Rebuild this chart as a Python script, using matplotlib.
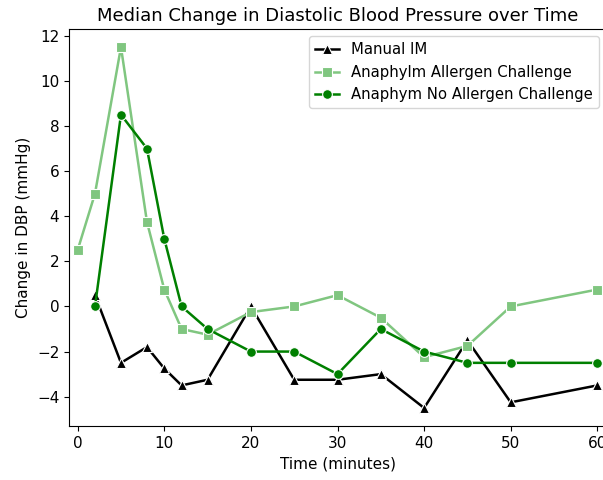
import matplotlib.pyplot as plt

# time points (minutes)
t_manual = [2, 5, 8, 10, 12, 15, 20, 25, 30, 35, 40, 45, 50, 60]
manual_im = [0.5, -2.5, -1.8, -2.75, -3.5, -3.25, 0.0, -3.25, -3.25, -3.0, -4.5, -1.5, -4.25, -3.5]

t_allergen = [0, 2, 5, 8, 10, 12, 15, 20, 25, 30, 35, 40, 45, 50, 60]
allergen = [2.5, 5.0, 11.5, 3.75, 0.75, -1.0, -1.25, -0.25, 0.0, 0.5, -0.5, -2.25, -1.75, 0.0, 0.75]

t_no_allergen = [2, 5, 8, 10, 12, 15, 20, 25, 30, 35, 40, 45, 50, 60]
no_allergen = [0.0, 8.5, 7.0, 3.0, 0.0, -1.0, -2.0, -2.0, -3.0, -1.0, -2.0, -2.5, -2.5, -2.5]

fig = plt.figure(figsize=(6.03, 4.8), dpi=100)
ax = fig.add_axes([69 / 603, 54 / 480, 537 / 603, 397 / 480])

ax.plot(t_manual, manual_im, color='black', marker='^', lw=1.8, ms=7,
        mec='white', mew=0.8, label='Manual IM')
ax.plot(t_allergen, allergen, color='#80c680', marker='s', lw=1.8, ms=7,
        mec='white', mew=0.8, label='Anaphylm Allergen Challenge')
ax.plot(t_no_allergen, no_allergen, color='green', marker='o', lw=1.8, ms=7,
        mec='white', mew=0.8, label='Anaphym No Allergen Challenge')

ax.set_xlim(-1, 61)
ax.set_xticks([0, 10, 20, 30, 40, 50, 60])
ax.set_yticks([-4, -2, 0, 2, 4, 6, 8, 10, 12])
ax.tick_params(labelsize=11)
ax.set_xlabel('Time (minutes)', fontsize=11)
ax.set_ylabel('Change in DBP (mmHg)', fontsize=11)
ax.set_title('Median Change in Diastolic Blood Pressure over Time', fontsize=13)
ax.legend(loc='upper right', fontsize=10.7, handlelength=1.6)

fig.savefig('out.png', dpi=100)
